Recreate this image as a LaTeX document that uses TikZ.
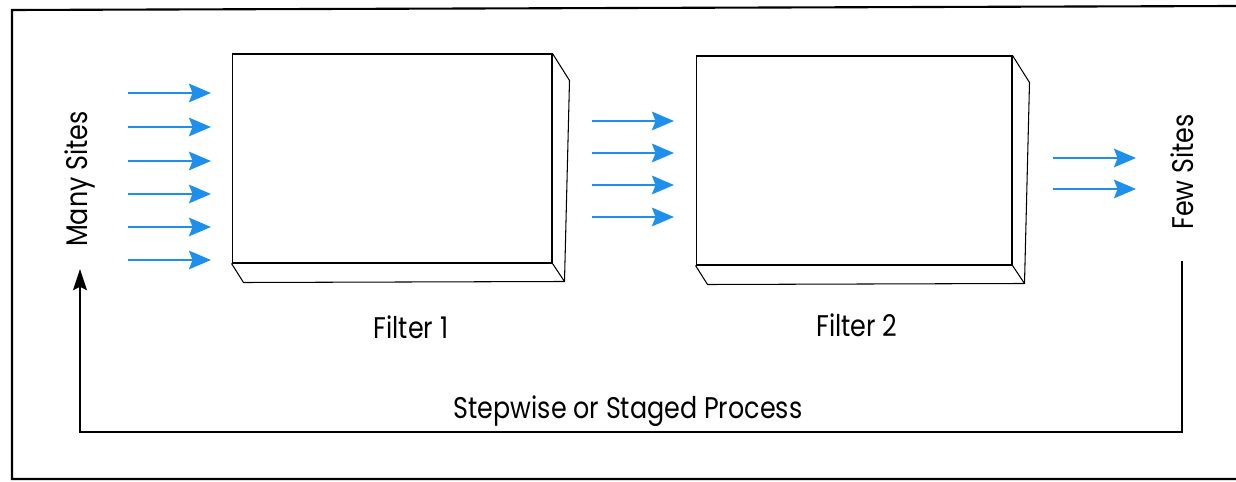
\documentclass[tikz,border=0pt]{standalone}
\usepackage{fontspec}
\setmainfont[FakeStretch=0.85]{Poppins}
\usetikzlibrary{arrows.meta}
\definecolor{flowblue}{RGB}{30,144,235}
\tikzset{
  every picture/.style={font={\fontsize{17}{20}\selectfont}, >=Stealth},
  filterface/.style={draw, line width=0.6pt, minimum height=4.18cm, inner sep=0pt},
  filteredge/.style={draw, line width=0.6pt, line join=round},
  flow/.style={draw=flowblue, line width=1.6pt, -{Stealth[length=12.5pt,width=10.5pt,inset=2pt]}},
  backarrow/.style={draw, line width=0.7pt, -{Stealth[length=12pt,width=8pt,inset=2pt]}},
  sitelabel/.style={rotate=90, inner sep=0pt}}

\begin{document}
\begin{tikzpicture}[x=0.02cm, y=-0.02cm]
    \useasboundingbox (0,0) rectangle (1236,482);
    % frame
    \draw[line width=1.2pt] (1236,6) -- (12,10) -- (12,479) -- (1236,479);

    % the two filters
    \node[filterface, minimum width=6.4cm] (f1) at (392,158.5) {};
    \node[filterface, minimum width=6.32cm] (f2) at (854,160.5) {};
    \foreach \f in {f1,f2} {
      \draw[filteredge] (\f.north east) -- ++(17,27) -- ++(-5,201) coordinate (\f c) -- (\f.south east);
      \draw[filteredge] (\f.south west) -- ++(12,19) -- (\f c);
    }
    \node (lab1) at (411,327) {Filter 1};
    \node (lab2) at (857,325) {Filter 2};

    % flows
    \foreach \y in {93,127,161,194,227,260}
      \draw[flow] (128,\y) -- (211,\y);
    \foreach \y in {121,153,185,217}
      \draw[flow] (592,\y) -- (674,\y);
    \foreach \y in {158,189}
      \draw[flow] (1053,\y) -- (1136,\y);

    \node[sitelabel] (many) at (80,179) {Many Sites};
    \node[sitelabel] (few) at (1182,172) {Few Sites};

    % feedback loop
    \coordinate (base) at (628,432);
    \draw[backarrow] ([yshift=-0.62cm]few.west) |- (base) -| ([yshift=-0.44cm]many.west);
    \node (stage) at (628,411) {Stepwise or Staged Process};
\end{tikzpicture}
\end{document}
